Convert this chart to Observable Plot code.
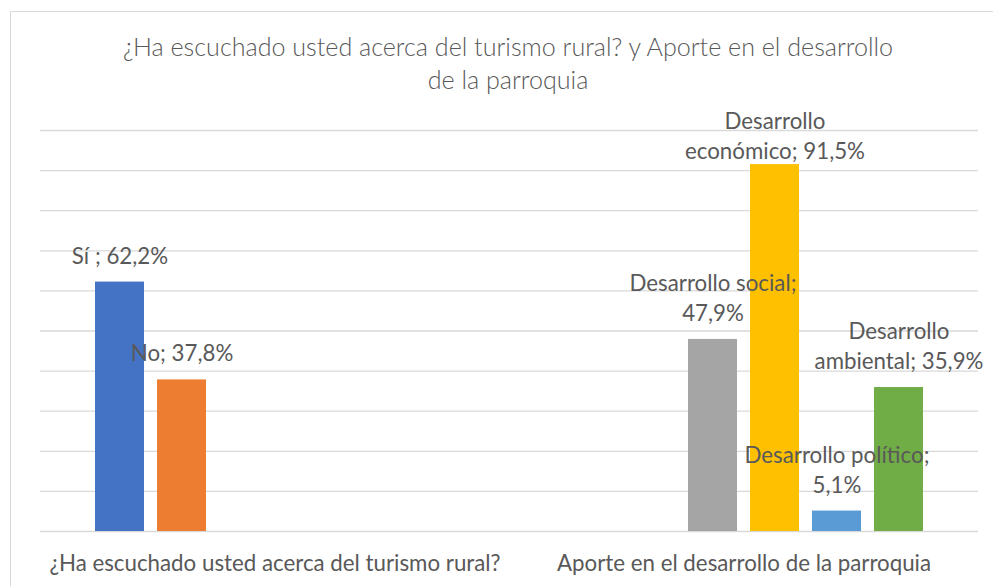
<!DOCTYPE html>
<html>
<head>
<meta charset="utf-8">
<script src="https://cdn.jsdelivr.net/npm/d3@7"></script>
<script src="https://cdn.jsdelivr.net/npm/@observablehq/plot@0.6"></script>
<style>
  body { margin: 0; background: #fff; overflow: hidden; }
  #wrap { position: relative; width: 993px; height: 586px; overflow: hidden; font-family: Lato, sans-serif; color: #595959; }
  #frame { position: absolute; left: 10px; top: 11px; width: 1000px; height: 620px; border: 1px solid #d9d9d9; box-sizing: border-box; }
  #title { position: absolute; left: 0; top: 30px; width: 1016px; text-align: center; font-size: 25.1px; line-height: 32.5px; font-weight: 300; }
  #chart { position: absolute; left: 0; top: 100px; }
</style>
</head>
<body>
<div id="wrap">
  <div id="frame"></div>
  <div id="title">¿Ha escuchado usted acerca del turismo rural? y Aporte en el desarrollo<br>de la parroquia</div>
  <div id="chart"></div>
</div>
<script>
const categories = [
  "¿Ha escuchado usted acerca del turismo rural?",
  "Aporte en el desarrollo de la parroquia"
];
const series = ["Sí ", "No", "Desarrollo social", "Desarrollo económico", "Desarrollo político", "Desarrollo ambiental"];
const colors = ["#4472C4", "#ED7D31", "#A5A5A5", "#FFC000", "#5B9BD5", "#70AD47"];
const group1Series = ["Sí ", "No"];
const group1Values = [62.2, 37.8];
const group2Series = ["Desarrollo social", "Desarrollo económico", "Desarrollo político", "Desarrollo ambiental"];
const group2Values = [47.9, 91.5, 5.1, 35.9];
const yTicks = [0, 10, 20, 30, 40, 50, 60, 70, 80, 90, 100];

const rows = [
  ...group1Values.map((v, i) => ({category: categories[0], series: group1Series[i], value: v})),
  ...group2Values.map((v, i) => ({category: categories[1], series: group2Series[i], value: v}))
];

const textColor = "#595959";
const labelSize = 22.3;
const labelMaxWidth = 193;

// greedy word wrap measured with the actual font
const ctx = document.createElement("canvas").getContext("2d");
ctx.font = `${labelSize}px Lato, sans-serif`;
function wrap(str) {
  const words = str.split(" ");
  const lines = [];
  let cur = "";
  for (const w of words) {
    const test = cur ? cur + " " + w : w;
    if (cur && ctx.measureText(test).width > labelMaxWidth) {
      lines.push(cur);
      cur = w;
    } else cur = test;
  }
  lines.push(cur);
  return lines.join("\n");
}

const fmt = v => d3.format(".1f")(v).replace(".", ",") + "%";
const labelText = d => wrap(`${d.series}; ${fmt(d.value)}`);
const labelCeiling = 90;

const labelOpts = {
  fx: "category", x: "series", y: "value", text: labelText,
  lineAnchor: "bottom", lineHeight: 1.345,
  fontSize: labelSize, fill: textColor
};

const chart = Plot.plot({
  width: 993,
  height: 486,
  marginTop: 30,
  marginBottom: 55,
  marginLeft: 40,
  marginRight: 15,
  style: {fontFamily: "Lato, sans-serif", color: textColor, background: "transparent", overflow: "visible"},
  fx: {domain: categories, padding: 0, axis: null},
  x: {domain: series, paddingInner: 0.216, paddingOuter: 0.86, axis: null},
  y: {domain: [0, 100], axis: null},
  color: {domain: series, range: colors},
  marks: [
    Plot.ruleY(yTicks, {stroke: "#d9d9d9", strokeWidth: 1.3}),
    Plot.barY(rows, {fx: "category", x: "series", y: "value", fill: "series"}),
    Plot.text(rows.filter(d => d.value <= labelCeiling), {...labelOpts, dy: -18.5}),
    Plot.text(rows.filter(d => d.value > labelCeiling), {...labelOpts, dy: -6}),
    Plot.text(categories, {
      fx: d => d, text: d => d, frameAnchor: "bottom", lineAnchor: "bottom",
      dy: 39.3, fontSize: labelSize, fill: textColor
    })
  ]
});
document.getElementById("chart").appendChild(chart);
</script>
</body>
</html>
